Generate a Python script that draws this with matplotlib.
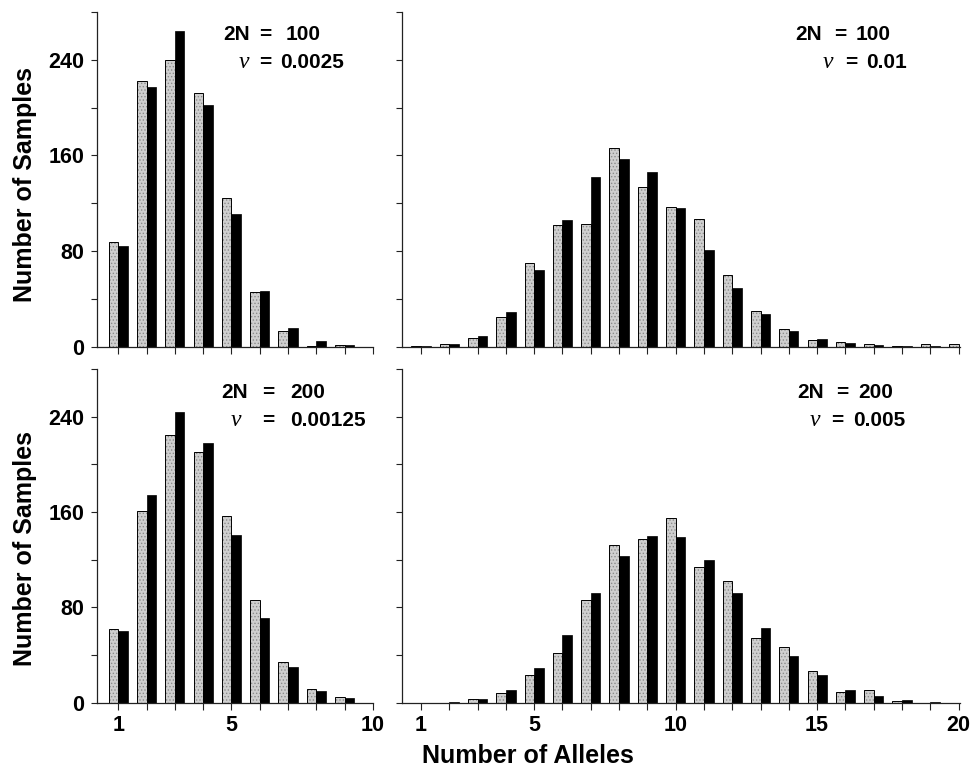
import matplotlib
matplotlib.use('Agg')
import matplotlib.pyplot as plt
import numpy as np
from matplotlib.ticker import FixedLocator, FixedFormatter

# ---------------- data ----------------
alleles_small = list(range(1, 11))
alleles_large = list(range(1, 21))

# 2N = 100, v = 0.0025
tl_grey = [88, 222, 240, 212, 124, 46, 13, 1, 1.5, 0]
tl_black = [84, 217, 264, 202, 111, 47, 16, 5, 1.5, 0]

# 2N = 100, v = 0.01
tr_grey = [0.5, 2, 7, 25, 70, 102, 103, 166, 134, 117, 107, 60, 30, 15, 6, 4, 2, 0.5, 2, 2]
tr_black = [0.5, 2, 9, 29, 64, 106, 142, 157, 146, 116, 81, 49, 27, 13, 6.5, 3, 1.4, 0.5, 1, 1]

# 2N = 200, v = 0.00125
bl_grey = [62, 161, 225, 210, 157, 86, 34, 11.5, 4.8, 0]
bl_black = [60, 174, 244, 218, 141, 71, 29.6, 10, 3.6, 0]

# 2N = 200, v = 0.005
br_grey = [0, 0, 2.8, 8, 23, 41.5, 86, 132, 137, 155, 114, 102, 54, 47, 27, 9, 10.7, 1.4, 0, 0]
br_black = [0, 0.5, 3.4, 11, 29, 57, 92, 123, 140, 139, 120, 92, 63, 39, 23, 11, 5.3, 2, 0.8, 0]

y_major = [0, 80, 160, 240]
y_minor = [40, 120, 200, 280]
x_labels_small = {1: '1', 5: '5', 10: '10'}
x_labels_large = {1: '1', 5: '5', 10: '10', 15: '15', 20: '20'}

panel_text = {
    'tl': ('2N', '100', '0.0025'),
    'tr': ('2N', '100', '0.01'),
    'bl': ('2N', '200', '0.00125'),
    'br': ('2N', '200', '0.005'),
}

# ---------------- figure ----------------
W, H = 974, 777
fig = plt.figure(figsize=(W / 100, H / 100), dpi=100)
plt.rcParams['hatch.linewidth'] = 0.6

FONT = 'Liberation Sans'
GREY = '#cfcfcf'


def rect(x0, x1, ytop, ybot):
    return [x0 / W, 1 - ybot / H, (x1 - x0) / W, (ybot - ytop) / H]


ax_tl = fig.add_axes(rect(97, 373, 12, 346.7))
ax_tr = fig.add_axes(rect(401.5, 960, 12, 346.7))
ax_bl = fig.add_axes(rect(97, 373, 369, 702.7))
ax_br = fig.add_axes(rect(401.5, 960, 369, 702.7))

w = 0.34


def draw(ax, xs, grey, black, xlim, labels, show_x, show_y):
    xs = np.asarray(xs, dtype=float)
    # stippled grey fill
    ax.bar(xs - w / 2, grey, width=w, color=GREY, edgecolor='#8c8c8c', hatch='.....',
           linewidth=0, zorder=2)
    # thin black outline
    ax.bar(xs - w / 2, grey, width=w, facecolor='none', edgecolor='black', linewidth=0.7, zorder=3)
    ax.bar(xs + w / 2, black, width=w, color='black', edgecolor='black', linewidth=0.5, zorder=3)
    ax.set_xlim(*xlim)
    ax.set_ylim(0, 280)
    for s in ('top', 'right'):
        ax.spines[s].set_visible(False)
    for s in ('left', 'bottom'):
        ax.spines[s].set_linewidth(0.9)
        ax.spines[s].set_color('#222222')
        ax.spines[s].set_zorder(4)
    ax.yaxis.set_major_locator(FixedLocator(y_major))
    ax.yaxis.set_minor_locator(FixedLocator(y_minor))
    ax.xaxis.set_major_locator(FixedLocator(list(xs)))
    if show_x:
        ax.xaxis.set_major_formatter(FixedFormatter([labels.get(int(v), '') for v in xs]))
    else:
        ax.set_xticklabels([])
    if show_y:
        ax.set_yticklabels([str(v) for v in y_major])
    else:
        ax.set_yticklabels([])
    ax.tick_params(axis='y', which='both', direction='out', length=4, width=0.8,
                   pad=5, colors='#222222', labelcolor='black')
    ax.tick_params(axis='x', which='major', direction='out', length=5, width=0.8,
                   pad=4, colors='#222222', labelcolor='black')
    for lab in ax.get_xticklabels() + ax.get_yticklabels():
        lab.set_fontfamily(FONT)
        lab.set_fontweight('bold')
        lab.set_fontsize(15.5)


draw(ax_tl, alleles_small, tl_grey, tl_black, (0.25, 10.0), x_labels_small, False, True)
draw(ax_tr, alleles_large, tr_grey, tr_black, (0.31, 20.05), x_labels_large, False, False)
draw(ax_bl, alleles_small, bl_grey, bl_black, (0.25, 10.0), x_labels_small, True, True)
draw(ax_br, alleles_large, br_grey, br_black, (0.31, 20.05), x_labels_large, True, False)


def annotate(key, y1, y2, lab_r, eq1, val1, nu_r, eq2, val2):
    name, n_val, v_val = panel_text[key]
    kw = dict(fontfamily=FONT, fontweight='bold', fontsize=15, va='center')
    fig.text(lab_r / W, 1 - y1 / H, name, ha='right', **kw)
    fig.text(eq1 / W, 1 - y1 / H, '=', ha='center', **kw)
    fig.text(val1 / W, 1 - y1 / H, n_val, ha='left', **kw)
    fig.text(nu_r / W, 1 - y2 / H, 'ν', ha='right', va='center',
             fontfamily='Liberation Serif', fontstyle='italic', fontsize=17)
    fig.text(eq2 / W, 1 - y2 / H, '=', ha='center', **kw)
    fig.text(val2 / W, 1 - y2 / H, v_val, ha='left', **kw)


annotate('tl', 35, 63, 250, 265, 286, 249, 265, 280)
annotate('tr', 35, 63, 822, 840, 856, 833, 851, 866)
annotate('bl', 393, 421, 248, 268, 290, 241, 268, 290)
annotate('br', 393, 421, 824, 842, 858, 820, 837, 853)

lab_kw = dict(fontfamily=FONT, fontweight='bold', fontsize=18)
fig.text(25 / W, 1 - 185 / H, 'Number of Samples', rotation=90, ha='center', va='center', **lab_kw)
fig.text(25 / W, 1 - 548 / H, 'Number of Samples', rotation=90, ha='center', va='center', **lab_kw)
fig.text(528 / W, 1 - 756 / H, 'Number of Alleles', ha='center', va='center', **lab_kw)

fig.savefig('out.png', dpi=100, facecolor='white')
